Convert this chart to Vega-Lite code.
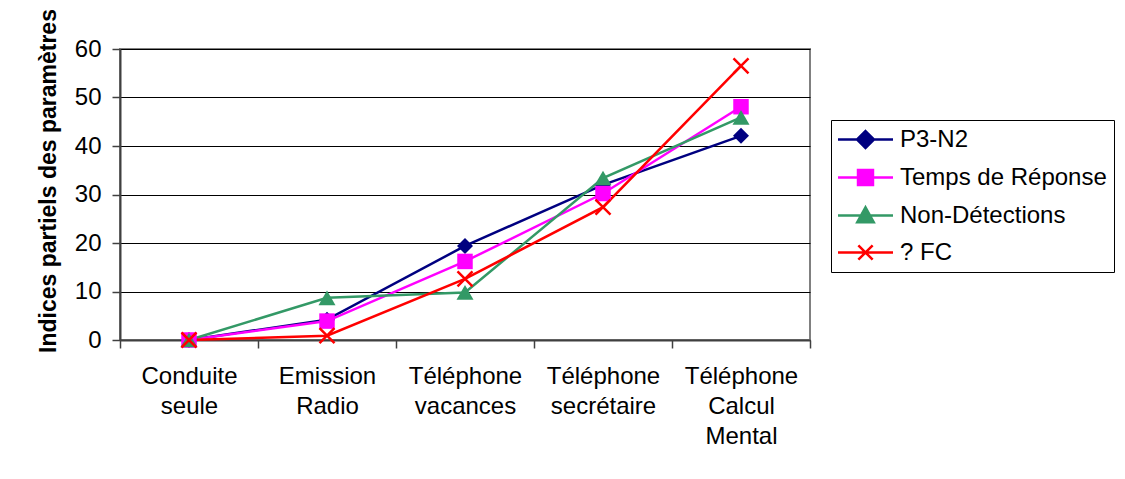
{
  "$schema": "https://vega.github.io/schema/vega-lite/v6.json",
  "width": 690,
  "height": 291,
  "autosize": "none",
  "padding": {"left": 120, "top": 49, "right": 315, "bottom": 139},
  "background": "white",
  "config": {
    "font": "Liberation Sans",
    "view": {"stroke": "#808080", "strokeWidth": 2}
  },
  "data": {
    "values": [
      {"cat": "Conduite seule", "series": "P3-N2", "value": 0},
      {"cat": "Emission Radio", "series": "P3-N2", "value": 4.2},
      {"cat": "Téléphone vacances", "series": "P3-N2", "value": 19.4},
      {"cat": "Téléphone secrétaire", "series": "P3-N2", "value": 32},
      {"cat": "Téléphone Calcul Mental", "series": "P3-N2", "value": 42.1},
      {"cat": "Conduite seule", "series": "Temps de Réponse", "value": 0},
      {"cat": "Emission Radio", "series": "Temps de Réponse", "value": 3.9},
      {"cat": "Téléphone vacances", "series": "Temps de Réponse", "value": 16.2},
      {"cat": "Téléphone secrétaire", "series": "Temps de Réponse", "value": 30.2},
      {"cat": "Téléphone Calcul Mental", "series": "Temps de Réponse", "value": 48.1},
      {"cat": "Conduite seule", "series": "Non-Détections", "value": 0},
      {"cat": "Emission Radio", "series": "Non-Détections", "value": 8.7},
      {"cat": "Téléphone vacances", "series": "Non-Détections", "value": 9.8},
      {"cat": "Téléphone secrétaire", "series": "Non-Détections", "value": 33.4},
      {"cat": "Téléphone Calcul Mental", "series": "Non-Détections", "value": 45.9},
      {"cat": "Conduite seule", "series": "? FC", "value": 0},
      {"cat": "Emission Radio", "series": "? FC", "value": 0.9},
      {"cat": "Téléphone vacances", "series": "? FC", "value": 12.6},
      {"cat": "Téléphone secrétaire", "series": "? FC", "value": 27.4},
      {"cat": "Téléphone Calcul Mental", "series": "? FC", "value": 56.5}
    ]
  },
  "encoding": {
    "x": {
      "field": "cat",
      "type": "nominal",
      "scale": {
        "domain": ["Conduite seule", "Emission Radio", "Téléphone vacances", "Téléphone secrétaire", "Téléphone Calcul Mental"],
        "type": "band",
        "paddingInner": 0,
        "paddingOuter": 0
      },
      "axis": {
        "title": null,
        "labelAngle": 0,
        "labelExpr": "split(datum.label, ' ')",
        "labelFontSize": 24,
        "labelLineHeight": 30,
        "labelColor": "black",
        "labelPadding": 16,
        "labelLimit": 200,
        "tickBand": "extent",
        "tickSize": 8,
        "tickColor": "#404040",
        "tickWidth": 1.5,
        "domainColor": "#404040",
        "domainWidth": 2,
        "grid": false
      }
    },
    "y": {
      "field": "value",
      "type": "quantitative",
      "scale": {"domain": [0, 60], "nice": false},
      "axis": {
        "values": [0, 10, 20, 30, 40, 50, 60],
        "title": "Indices partiels des paramètres",
        "titleFontSize": 23,
        "titleFontWeight": "bold",
        "titleColor": "black",
        "titleX": -72,
        "titleY": 131.5,
        "titleAngle": -90,
        "titleBaseline": "middle",
        "titleAlign": "center",
        "labelFontSize": 24,
        "labelColor": "black",
        "labelPadding": 11,
        "tickSize": 8,
        "tickColor": "#404040",
        "tickWidth": 1.5,
        "domainColor": "#404040",
        "domainWidth": 2,
        "grid": true,
        "gridColor": "black",
        "gridWidth": 1
      }
    }
  },
  "layer": [
    {
      "mark": {"type": "line", "strokeWidth": 2.5},
      "encoding": {
        "color": {
          "field": "series",
          "type": "nominal",
          "scale": {
            "domain": ["P3-N2", "Temps de Réponse", "Non-Détections", "? FC"],
            "range": ["#000080", "#FF00FF", "#339966", "#FF0000"]
          },
          "legend": {
            "title": null,
            "orient": "none",
            "legendX": 711,
            "legendY": 71,
            "strokeColor": "black",
            "fillColor": "white",
            "padding": 7,
            "labelFontSize": 24,
            "labelColor": "black",
            "labelLimit": 300,
            "rowPadding": 12,
            "symbolSize": 484,
            "symbolStrokeWidth": 2.5,
            "symbolOffset": 15,
            "labelOffset": 22,
            "encode": {
              "symbols": {
                "update": {
                  "shape": {"signal": "datum.value === 'P3-N2' ? 'M-2.5,0H2.5M0,-0.77L0.77,0L0,0.77L-0.77,0Z' : datum.value === 'Temps de Réponse' ? 'M-2.5,0H2.5M-0.68,-0.68H0.68V0.68H-0.68Z' : datum.value === 'Non-Détections' ? 'M-2.5,0H2.5M0,-0.75L0.75,0.62H-0.75Z' : 'M-2.5,0H2.5M-0.65,-0.65L0.65,0.65M-0.65,0.65L0.65,-0.65'"},
                  "fill": {"signal": "scale('color', datum.value)"},
                  "stroke": {"signal": "scale('color', datum.value)"},
                  "strokeWidth": {"value": 2.5},
                  "fillOpacity": {"value": 1},
                  "strokeOpacity": {"value": 1}
                }
              }
            }
          }
        }
      }
    },
    {
      "transform": [{"filter": {"field": "series", "equal": "P3-N2"}}],
      "mark": {"type": "point", "filled": true, "shape": "diamond", "color": "#000080", "size": 256, "opacity": 1}
    },
    {
      "transform": [{"filter": {"field": "series", "equal": "Temps de Réponse"}}],
      "mark": {"type": "point", "filled": true, "shape": "square", "color": "#FF00FF", "size": 240, "opacity": 1}
    },
    {
      "transform": [{"filter": {"field": "series", "equal": "Non-Détections"}}],
      "mark": {"type": "point", "filled": true, "shape": "triangle-up", "color": "#339966", "size": 289, "opacity": 1}
    },
    {
      "transform": [{"filter": {"field": "series", "equal": "? FC"}}],
      "mark": {"type": "point", "filled": false, "shape": "M-1,-1L1,1M-1,1L1,-1", "color": "#FF0000", "strokeWidth": 2.5, "size": 225, "opacity": 1}
    }
  ]
}
